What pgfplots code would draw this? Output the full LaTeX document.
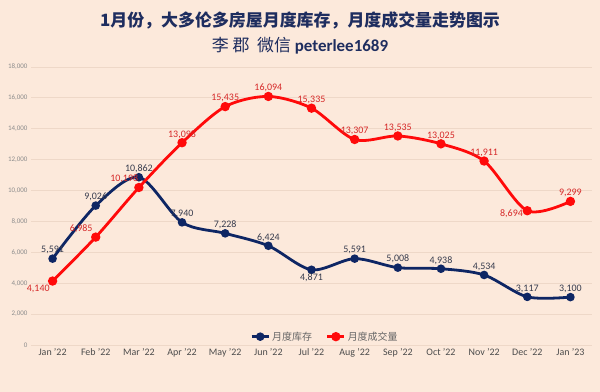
\documentclass[border=0pt]{standalone}
\usepackage{pgfplots}
\pgfplotsset{compat=1.18}
\usepackage{pgfplotstable}
\usepackage{fontspec}
\setmainfont{Carlito}
\newfontfamily\cjk{Noto Sans CJK SC}
\definecolor{bg}{RGB}{252,233,219}
\definecolor{gridc}{RGB}{238,216,200}
\definecolor{navy}{RGB}{14,38,100}
\definecolor{myred}{RGB}{255,10,10}
\definecolor{navylab}{RGB}{55,60,78}
\definecolor{redlab}{RGB}{214,40,40}
\definecolor{titlec}{RGB}{30,45,95}
\pgfplotstableread{
x y anc
0 5591 270
1 9026 270
2 10862 270
3 7940 270
4 7228 270
5 6424 270
6 4871 90
7 5591 270
8 5008 270
9 4938 270
10 4534 270
11 3117 270
12 3100 270
}\inventory
\pgfplotstableread{
x y anc
0 4140 30
1 6985 330
2 10198 330
3 13098 270
4 15435 270
5 16094 270
6 15335 270
7 13307 270
8 13535 270
9 13025 270
10 11911 270
11 8694 10
12 9299 270
}\sales
\begin{document}
\begin{tikzpicture}
\fill[bg] (0,0) rectangle (600bp,392bp);
\useasboundingbox (0,0) rectangle (600bp,392bp);
\node[text=titlec, font=\cjk\bfseries\fontsize{17}{20}\selectfont] at (300bp,372bp) {1月份，大多伦多房屋月度库存，月度成交量走势图示};
\node[text=titlec, font=\fontsize{17}{20}\selectfont] at (300bp,346bp) {{\cjk 李 郡\ \ 微信} \textbf{peterlee1689}};
\begin{axis}[
  at={(31bp,47bp)}, anchor=south west,
  scale only axis, width=561bp, height=278bp,
  xmin=-0.5, xmax=12.5, ymin=0, ymax=18000,
  xtick={0,...,12},
  xticklabels={Jan '22,Feb '22,Mar '22,Apr '22,May '22,Jun '22,Jul '22,Aug '22,Sep '22,Oct '22,Nov '22,Dec '22,Jan '23},
  ytick={0,2000,...,18000},
  scaled y ticks=false,
  ymajorgrids, grid style={gridc, line width=0.8bp},
  axis line style={draw=none}, major tick length=0pt,
  /pgf/number format/1000 sep={,},
  /pgf/number format/assume math mode=true,
  yticklabel style={font=\fontsize{7}{8}\selectfont, text=black!45, /pgf/number format/fixed},
  xticklabel style={font=\fontsize{10}{12}\selectfont, text=black!70},
  clip=false,
  legend style={at={(0.524,0.03)}, anchor=center, draw=none, fill=none,
    font=\cjk\fontsize{10}{12}\selectfont, text=black!60,
    /tikz/every even column/.append style={column sep=12bp}},
  legend columns=2,
  nodes near coords={\pgfmathprintnumber[1000 sep={,},assume math mode=true]{\pgfplotspointmeta}},
  point meta=y,
  visualization depends on={\thisrow{anc} \as \anc},
  every node near coord/.append style={anchor=\anc, inner sep=3bp, font=\fontsize{10}{12}\selectfont},
]
\addplot[navy, line width=2.8bp, smooth, tension=0.5, mark=*, mark size=2.8bp,
  every node near coord/.append style={text=navylab}] table[x=x,y=y] {\inventory};
\addlegendentry{月度库存}
\addplot[myred, line width=2.8bp, smooth, tension=0.5, mark=*, mark size=3.2bp,
  every node near coord/.append style={text=redlab}] table[x=x,y=y] {\sales};
\addlegendentry{月度成交量}
\end{axis}
\end{tikzpicture}
\end{document}
